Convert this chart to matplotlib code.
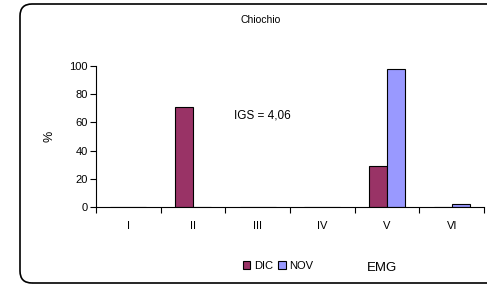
import matplotlib
matplotlib.use("Agg")
from matplotlib import pyplot as plt
from matplotlib.patches import FancyBboxPatch
import numpy as np

plt.rcParams["font.family"] = ["Liberation Sans", "DejaVu Sans"]

categories = ["I", "II", "III", "IV", "V", "VI"]
dic = [0, 71, 0, 0, 29, 0]
nov = [0, 0, 0, 0, 98, 2]

fig = plt.figure(figsize=(4.87, 2.87), dpi=100)
W, H = 487, 287

# rounded frame round the chart (in pixel units, then drawn behind the axes)
frame = FancyBboxPatch((20, 4), 480, 279,
                       boxstyle="round,pad=0,rounding_size=12",
                       transform=None, fc="none", ec="black", lw=1.2, zorder=-1)
fig.patches.append(frame)

ax = fig.add_axes([96 / W, (H - 207) / H, (484 - 96) / W, (207 - 66) / H])
x = np.arange(len(categories))
w = 0.28
ax.bar(x - w / 2, dic, w, color="#993366", edgecolor="black", lw=0.8, label="DIC")
ax.bar(x + w / 2, nov, w, color="#9999FF", edgecolor="black", lw=0.8, label="NOV")

ax.set_xlim(-0.5, 5.5)
ax.set_ylim(0, 100)
ax.set_yticks([0, 20, 40, 60, 80, 100])
ax.set_xticks(np.arange(-0.5, 6, 1))
ax.set_xticklabels([])
ax.set_xticks(x, minor=True)
ax.set_xticklabels(categories, minor=True)
ax.tick_params(axis="x", which="minor", length=0, pad=10, labelsize=8)
ax.tick_params(axis="x", which="major", length=4, direction="out")
ax.tick_params(axis="y", length=4, direction="out", labelsize=8, pad=2)
for s in ["top", "right"]:
    ax.spines[s].set_visible(False)
ax.patch.set_alpha(0)
ax.set_ylabel("%", fontsize=9)
ax.yaxis.set_label_coords(-0.105, 0.5)

fig.text(261 / W, 1 - 20 / H, "Chiochio", ha="center", va="center", fontsize=7.5)
fig.text(234 / W, 1 - 116 / H, "IGS = 4,06", ha="left", va="center", fontsize=8.5)
fig.text(382 / W, 1 - 268 / H, "EMG", ha="center", va="center", fontsize=9.5)
fig.legend(loc="center", bbox_to_anchor=(278 / W, 1 - 266 / H), ncol=2, frameon=False,
           fontsize=8, handlelength=0.7, handleheight=0.7, handletextpad=0.3,
           columnspacing=0.5)

fig.savefig("out.png", dpi=100)
